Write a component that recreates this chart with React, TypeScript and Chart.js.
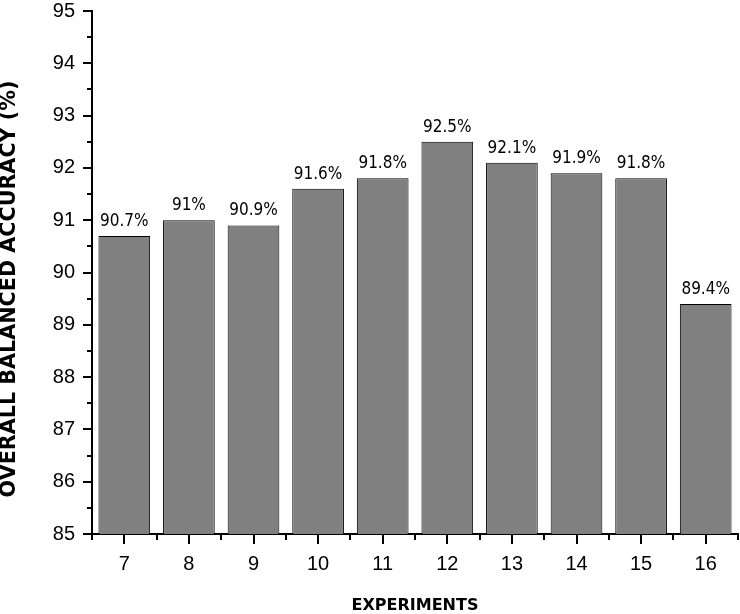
import React, { useEffect, useRef } from "react";
import { Chart, registerables } from "chart.js";

Chart.register(...registerables);

const experiments = ["7", "8", "9", "10", "11", "12", "13", "14", "15", "16"];
const accuracy = [90.7, 91.0, 90.9, 91.6, 91.8, 92.5, 92.1, 91.9, 91.8, 89.4];
const valueLabels = ["90.7%", "91%", "90.9%", "91.6%", "91.8%", "92.5%", "92.1%", "91.9%", "91.8%", "89.4%"];
const yTitle = "OVERALL BALANCED ACCURACY (%)";
const xTitle = "EXPERIMENTS";
const yMin = 85;
const yMax = 95;
const yMinorTicks = [85.5, 86.5, 87.5, 88.5, 89.5, 90.5, 91.5, 92.5, 93.5, 94.5];

const extrasPlugin = {
  id: "extras",
  afterDraw(chart: any) {
    const ctx = chart.ctx;
    const x = chart.scales.x;
    const y = chart.scales.y;
    const area = chart.chartArea;
    ctx.save();
    ctx.strokeStyle = "#000";
    ctx.lineWidth = 2;
    yMinorTicks.forEach((v) => {
      const py = Math.round(y.getPixelForValue(v));
      ctx.beginPath();
      ctx.moveTo(area.left - 5, py);
      ctx.lineTo(area.left, py);
      ctx.stroke();
    });
    for (let i = 0; i <= experiments.length; i++) {
      const px = Math.round(x.getPixelForValue(i - 0.5));
      ctx.beginPath();
      ctx.moveTo(px, area.bottom);
      ctx.lineTo(px, area.bottom + 6);
      ctx.stroke();
    }
    const meta = chart.getDatasetMeta(0);
    ctx.fillStyle = "#000";
    ctx.font = "17px 'DejaVu Sans Condensed', 'DejaVu Sans', sans-serif";
    ctx.textAlign = "center";
    ctx.textBaseline = "alphabetic";
    meta.data.forEach((bar: any, i: number) => {
      ctx.fillText(valueLabels[i], bar.x, bar.y - 10);
    });
    ctx.translate(10, 289);
    ctx.rotate(-Math.PI / 2);
    ctx.font = "bold 20.7px 'DejaVu Sans', sans-serif";
    ctx.textBaseline = "middle";
    ctx.textAlign = "center";
    ctx.fillText(yTitle, 0, 0);
    ctx.restore();
  },
};

export default function App() {
  const ref = useRef<HTMLCanvasElement>(null);
  useEffect(() => {
    if (!ref.current) return;
    const chart = new Chart(ref.current, {
      type: "bar",
      data: {
        labels: experiments,
        datasets: [
          {
            data: accuracy,
            backgroundColor: "#808080",
            borderColor: "#000000",
            borderWidth: 1,
            barPercentage: 0.8,
            categoryPercentage: 1,
          },
        ],
      },
      options: {
        animation: false,
        responsive: false,
        maintainAspectRatio: false,
        layout: { padding: { top: 0, right: 2, left: 0, bottom: 0 } },
        plugins: {
          legend: { display: false },
          tooltip: { enabled: false },
        },
        scales: {
          x: {
            grid: {
              display: true,
              drawOnChartArea: false,
              offset: false,
              tickLength: 10,
              tickWidth: 2,
              tickColor: "#000",
              lineWidth: 2,
            },
            border: { display: true, color: "#000", width: 2 },
            ticks: {
              color: "#000",
              padding: 8,
              font: { family: "'Liberation Sans', Arial, sans-serif", size: 20 },
            },
            title: {
              display: true,
              text: xTitle,
              color: "#000",
              font: { family: "'DejaVu Sans', sans-serif", size: 16, weight: "bold", lineHeight: 1 },
              padding: { top: 0, bottom: 0 },
            },
            afterFit(scale: any) {
              scale.height = 80;
            },
          },
          y: {
            min: yMin,
            max: yMax,
            grid: {
              display: true,
              drawOnChartArea: false,
              tickLength: 9,
              tickWidth: 2,
              tickColor: "#000",
              lineWidth: 2,
            },
            border: { display: true, color: "#000", width: 2 },
            ticks: {
              stepSize: 1,
              color: "#000",
              padding: 8,
              font: { family: "'Liberation Sans', Arial, sans-serif", size: 20, lineHeight: 1 },
            },
            title: { display: false },
            afterFit(scale: any) {
              scale.width = 92;
              scale.paddingTop = 11;
              scale.paddingBottom = 0;
            },
          },
        },
      },
      plugins: [extrasPlugin],
    });
    return () => chart.destroy();
  }, []);
  return (
    <div style={{ position: "fixed", left: 0, top: 0, width: 740, height: 614 }}>
      <canvas ref={ref} width={740} height={614} style={{ width: 740, height: 614 }} />
    </div>
  );
}
